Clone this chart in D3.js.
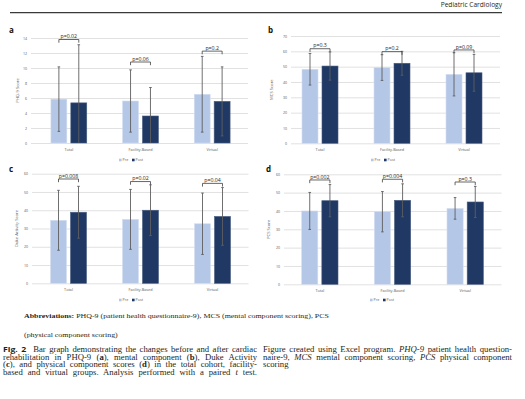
<!DOCTYPE html>
<html>
<head>
<meta charset="utf-8">
<script src="https://cdn.jsdelivr.net/npm/d3@7"></script>
<style>
  body { margin: 0; background: #fff; }
  svg { display: block; }
</style>
</head>
<body>
<div id="figura"></div>
<script>
// ---------------------------------------------------------------//
//   Datos
// ---------------------------------------------------------------//
var categorias = ["Total", "Facility-Based", "Virtual"];
var series = ["Pre", "Post"];

// a - PHQ-9
var phqPre = [5.85, 5.6, 6.5];
var phqPost = [5.35, 3.6, 5.55];
var phqPreSd = [4.3, 4.15, 5.05];
var phqPostSd = [7.75, 3.8, 4.6];
var phqP = ["p=0.02", "p=0.06", "p=0.2"];
var phqNivelP = [13.8, 10.8, 12.25];
var phqTicks = [0, 2, 4, 6, 8, 10, 12, 14];

// b - MCS
var mcsPre = [48.3, 49.4, 45.0];
var mcsPost = [50.4, 52.2, 46.0];
var mcsPreSd = [10.3, 8.4, 14.1];
var mcsPostSd = [9.2, 7.8, 12.0];
var mcsP = ["p=0.3", "p=0.2", "p=0.09"];
var mcsNivelP = [61.7, 59.8, 60.9];
var mcsTicks = [0, 10, 20, 30, 40, 50, 60, 70];

// c - Duke Activity
var dukePre = [34.5, 35.0, 32.6];
var dukePost = [38.9, 40.0, 36.6];
var dukePreSd = [16.4, 16.4, 16.8];
var dukePostSd = [14.2, 13.9, 15.8];
var dukeP = ["p=0.008", "p=0.02", "p=0.04"];
var dukeNivelP = [57.1, 55.7, 54.7];
var dukeTicks = [0, 10, 20, 30, 40, 50, 60];

// d - PCS
var pcsPre = [40.0, 39.6, 41.4];
var pcsPost = [45.6, 45.8, 44.9];
var pcsPreSd = [10.1, 11.0, 5.9];
var pcsPostSd = [8.8, 9.0, 8.5];
var pcsP = ["p=0.002", "p=0.004", "p=0.3"];
var pcsNivelP = [56.9, 57.3, 55.8];
var pcsTicks = [0, 10, 20, 30, 40, 50, 60];

// colores
var colorPre = "#b4c7e7";
var colorPost = "#1f3864";
var colorGrid = "#d9d9d9";
var colorError = "#5f5f5f";
var colorTexto = "#595959";

var fuente = "'Open Sans', 'Liberation Sans', sans-serif";
var fuenteSerif = "'Liberation Serif', 'DejaVu Serif', serif";

// posicion de cada panel
var paneles = [
    { letra: "a", titulo: "PHQ-9 Score", pre: phqPre, post: phqPost, preSd: phqPreSd, postSd: phqPostSd,
      p: phqP, nivel: phqNivelP, ticks: phqTicks,
      x0: 33, x1: 248, gridX: 31, yBase: 143, yTop: 38, tituloX: 19, letraX: 9, letraY: 33, leyendaX: 119, leyendaY: 160 },
    { letra: "b", titulo: "MCS Score", pre: mcsPre, post: mcsPost, preSd: mcsPreSd, postSd: mcsPostSd,
      p: mcsP, nivel: mcsNivelP, ticks: mcsTicks,
      x0: 284, x1: 500, gridX: 291, yBase: 143.3, yTop: 36, tituloX: 273, letraX: 268, letraY: 33, leyendaX: 371, leyendaY: 160 },
    { letra: "c", titulo: "Duke Activity Score", pre: dukePre, post: dukePost, preSd: dukePreSd, postSd: dukePostSd,
      p: dukeP, nivel: dukeNivelP, ticks: dukeTicks,
      x0: 32.5, x1: 248.5, gridX: 32, yBase: 283.3, yTop: 173.7, tituloX: 18, letraX: 9, letraY: 172, leyendaX: 119, leyendaY: 300 },
    { letra: "d", titulo: "PCS Score", pre: pcsPre, post: pcsPost, preSd: pcsPreSd, postSd: pcsPostSd,
      p: pcsP, nivel: pcsNivelP, ticks: pcsTicks,
      x0: 283.5, x1: 501.5, gridX: 284, yBase: 284.3, yTop: 174.3, tituloX: 270, letraX: 266, letraY: 172, leyendaX: 370, leyendaY: 300 }
];

var svg = d3.select("#figura")
    .append("svg")
    .attr("width", 525)
    .attr("height", 399);

// cabecera de la revista
svg.append("text")
    .attr("x", 502)
    .attr("y", 7)
    .attr("text-anchor", "end")
    .attr("font-family", fuente)
    .attr("font-size", "6.6px")
    .attr("fill", "#231f20")
    .text("Pediatric Cardiology");

svg.append("line")
    .attr("x1", 10).attr("x2", 502)
    .attr("y1", 12.7).attr("y2", 12.7)
    .attr("stroke", "#3a3a3a")
    .attr("stroke-width", 1.3);

function dibujarPanel(p) {
    var g = svg.append("g");

    var x = d3.scaleBand()
        .domain(categorias)
        .range([p.x0, p.x1])
        .paddingInner(0.5)
        .paddingOuter(0.25);

    var xs = d3.scaleBand()
        .domain(series)
        .range([0, x.bandwidth()])
        .paddingInner(0.2);

    var y = d3.scaleLinear()
        .domain([0, d3.max(p.ticks)])
        .range([p.yBase, p.yTop]);

    // eje y con lineas de cuadricula
    var ejeY = g.append("g")
        .attr("transform", "translate(" + p.gridX + ",0)")
        .call(d3.axisLeft(y).tickValues(p.ticks).tickSize(-(p.x1 - p.gridX)).tickPadding(4));
    ejeY.select(".domain").remove();
    ejeY.selectAll("line").attr("stroke", colorGrid).attr("stroke-width", 0.8);
    ejeY.selectAll("text")
        .attr("font-family", fuente)
        .attr("font-size", "3.6px")
        .attr("fill", colorTexto);

    // eje x (solo etiquetas)
    var ejeX = g.append("g")
        .attr("transform", "translate(0," + p.yBase + ")")
        .call(d3.axisBottom(x).tickSize(0).tickPadding(5));
    ejeX.select(".domain").remove();
    ejeX.selectAll("text")
        .attr("font-family", fuente)
        .attr("font-size", "3.8px")
        .attr("fill", colorTexto);

    // titulo del eje y
    g.append("text")
        .attr("transform", "translate(" + p.tituloX + "," + (p.yBase + p.yTop) / 2 + ") rotate(-90)")
        .attr("text-anchor", "middle")
        .attr("font-family", fuente)
        .attr("font-size", "4.2px")
        .attr("fill", colorTexto)
        .text(p.titulo);

    // letra del panel
    g.append("text")
        .attr("x", p.letraX)
        .attr("y", p.letraY)
        .attr("font-family", fuente)
        .attr("font-weight", "bold")
        .attr("font-size", "8px")
        .attr("fill", "#111")
        .text(p.letra);

    var filas = categorias.map(function (c, i) {
        return {
            cat: c,
            valores: [
                { serie: "Pre", v: p.pre[i], sd: p.preSd[i] },
                { serie: "Post", v: p.post[i], sd: p.postSd[i] }
            ],
            pTexto: p.p[i],
            nivel: p.nivel[i]
        };
    });

    var grupos = g.selectAll("g.cat")
        .data(filas)
        .enter()
        .append("g")
        .attr("class", "cat")
        .attr("transform", function (d) { return "translate(" + x(d.cat) + ",0)"; });

    // barras
    grupos.selectAll("rect")
        .data(function (d) { return d.valores; })
        .enter()
        .append("rect")
        .attr("x", function (d) { return xs(d.serie); })
        .attr("y", function (d) { return y(d.v); })
        .attr("width", xs.bandwidth())
        .attr("height", function (d) { return y(0) - y(d.v); })
        .attr("fill", function (d) { return d.serie == "Pre" ? colorPre : colorPost; })
        .attr("stroke", function (d) { return d.serie == "Pre" ? "#d4def0" : "#4a5d80"; })
        .attr("stroke-width", 0.6);

    // barras de error
    var err = grupos.selectAll("g.err")
        .data(function (d) { return d.valores; })
        .enter()
        .append("g")
        .attr("class", "err")
        .attr("stroke", colorError)
        .attr("stroke-width", 0.9);

    var cx = function (d) { return xs(d.serie) + xs.bandwidth() / 2; };
    err.append("line")
        .attr("x1", cx).attr("x2", cx)
        .attr("y1", function (d) { return y(Math.max(0, d.v - d.sd)); })
        .attr("y2", function (d) { return y(d.v + d.sd); });
    err.append("line")
        .attr("x1", function (d) { return cx(d) - 1.3; })
        .attr("x2", function (d) { return cx(d) + 1.3; })
        .attr("y1", function (d) { return y(d.v + d.sd); })
        .attr("y2", function (d) { return y(d.v + d.sd); });
    err.filter(function (d) { return d.v - d.sd > 0; })
        .append("line")
        .attr("x1", function (d) { return cx(d) - 1.3; })
        .attr("x2", function (d) { return cx(d) + 1.3; })
        .attr("y1", function (d) { return y(d.v - d.sd); })
        .attr("y2", function (d) { return y(d.v - d.sd); });

    // corchetes con el valor p
    var xa = xs("Pre") + xs.bandwidth() / 2;
    var xb = xs("Post") + xs.bandwidth() / 2;
    grupos.append("path")
        .attr("d", function (d) {
            var yy = y(d.nivel);
            return "M" + xa + "," + (yy + 3.2) + "V" + yy + "H" + xb + "V" + (yy + 3.2);
        })
        .attr("fill", "none")
        .attr("stroke", "#404040")
        .attr("stroke-width", 0.8);

    grupos.append("text")
        .attr("x", (xa + xb) / 2)
        .attr("y", function (d) { return y(d.nivel) - 1.3; })
        .attr("text-anchor", "middle")
        .attr("font-family", fuente)
        .attr("font-size", "5.2px")
        .attr("fill", "#262626")
        .text(function (d) { return d.pTexto; });

    // leyenda
    var ley = g.append("g")
        .attr("transform", "translate(" + p.leyendaX + "," + p.leyendaY + ")");
    var items = ley.selectAll("g")
        .data(series)
        .enter()
        .append("g")
        .attr("transform", function (d, i) { return "translate(" + i * 13 + ",0)"; });
    items.append("rect")
        .attr("x", 0).attr("y", -1.3)
        .attr("width", 2.6).attr("height", 2.6)
        .attr("fill", function (d) { return d == "Pre" ? colorPre : colorPost; });
    items.append("text")
        .attr("x", 3.6)
        .attr("y", 1.3)
        .attr("font-family", fuente)
        .attr("font-size", "3.6px")
        .attr("fill", colorTexto)
        .text(function (d) { return d; });
}

paneles.forEach(dibujarPanel);

// ---------------------------------------------------------------//
//   Texto de abreviaturas y leyenda de la figura
// ---------------------------------------------------------------//
// el texto de la pagina es mas ancho que la fuente disponible, se estira en x
function lineaTexto(x, y, partes, ancho, tam, estiramiento) {
    var t = svg.append("text")
        .attr("transform", "translate(" + x + "," + y + ") scale(" + estiramiento + ",1)")
        .attr("font-family", fuenteSerif)
        .attr("font-size", tam + "px")
        .attr("fill", "#231f20")
        .attr("xml:space", "preserve");
    partes.forEach(function (p) {
        var s = t.append("tspan").text(p[0]);
        if (p[1] == "b") s.attr("font-weight", "bold");
        if (p[1] == "i") s.attr("font-style", "italic");
        if (p[1] == "fig") s.attr("font-weight", "bold").attr("font-family", fuente);
    });
    // justificar repartiendo el espacio sobrante entre las palabras
    if (ancho) {
        var w = t.node().getComputedTextLength();
        var espacios = partes.map(function (p) { return p[0]; }).join("").split(" ").length - 1;
        if (espacios > 0) {
            t.attr("word-spacing", ((ancho / estiramiento - w) / espacios) + "px");
        }
    }
    return t;
}

lineaTexto(24, 318, [["Abbreviations:", "b"], [" PHQ-9 (patient health questionnaire-9), MCS (mental component scoring), PCS"]], null, 6.8, 1.16);
lineaTexto(24, 337, [["(physical component scoring)"]], null, 6.8, 1.16);

var izq = [
    [["Fig. 2", "fig"], ["  Bar graph demonstrating the changes before and after cardiac"]],
    [["rehabilitation in PHQ-9 ("], ["a", "b"], ["), mental component ("], ["b", "b"], ["), Duke Activity"]],
    [["("], ["c", "b"], ["), and physical component scores ("], ["d", "b"], [") in the total cohort, facility-"]],
    [["based and virtual groups. Analysis performed with a paired "], ["t", "i"], [" test."]]
];
var der = [
    [["Figure created using Excel program. "], ["PHQ-9", "i"], [" patient health question-"]],
    [["naire-9, "], ["MCS", "i"], [" mental component scoring, "], ["PCS", "i"], [" physical component"]],
    [["scoring"]]
];

izq.forEach(function (l, i) {
    lineaTexto(3, 352 + i * 7.7, l, 254, 7.3, 1.19);
});
der.forEach(function (l, i) {
    lineaTexto(263, 352 + i * 7.7, l, i < 2 ? 249 : null, 7.3, 1.19);
});
</script>
</body>
</html>
